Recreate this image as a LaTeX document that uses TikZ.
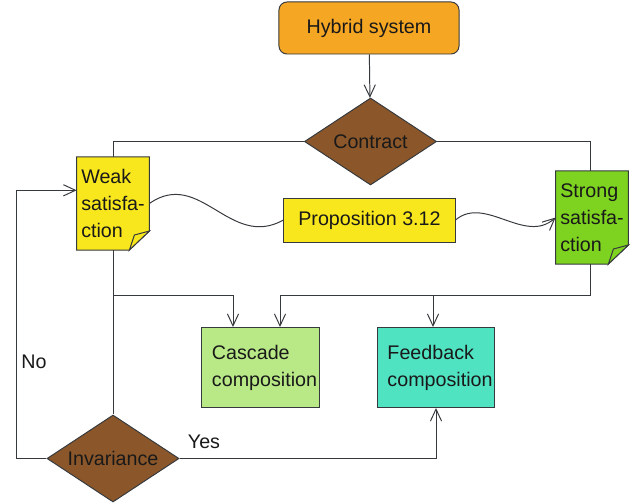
\documentclass[tikz,border=0pt]{standalone}
\usepackage{fontspec}
\setmainfont{Liberation Sans}
\usetikzlibrary{shapes.geometric,arrows.meta,backgrounds}
\definecolor{hybridorange}{HTML}{F5A623}
\definecolor{contractbrown}{HTML}{8B572A}
\definecolor{weakyellow}{HTML}{F8E71C}
\definecolor{stronggreen}{HTML}{7ED321}
\definecolor{cascadegreen}{HTML}{B8E986}
\definecolor{feedbackteal}{HTML}{50E3C2}
\definecolor{edgegray}{HTML}{36393D}
% folded corner drawn behind a note node
\newcommand{\dogear}[2]{%
  \begin{pgfonlayer}{background}
    \filldraw[draw=edgegray, line width=0.7pt, fill=#2]
      (#1.north west) -- (#1.north east) -- ([yshift=0.475cm]#1.south east)
      -- ([xshift=-0.5cm]#1.south east) -- (#1.south west) -- cycle;
    \filldraw[draw=edgegray, line width=0.7pt, fill=#2]
      ([yshift=0.475cm]#1.south east)
      .. controls ([xshift=-0.2cm,yshift=0.42cm]#1.south east) ..
      ([xshift=-0.375cm,yshift=0.375cm]#1.south east)
      -- ([xshift=-0.5cm]#1.south east) -- cycle;
  \end{pgfonlayer}}
\tikzset{
  every node/.style={
    font=\fontsize{14pt}{19.2pt}\selectfont,
    text=black!90
  },
  start/.style={
    shape=rectangle,
    rounded corners=0.2cm,
    draw=edgegray,
    line width=0.7pt,
    fill=hybridorange,
    minimum width=4.5cm,
    minimum height=1.3cm
  },
  decision/.style={
    shape=diamond,
    aspect=1.5,
    inner sep=0pt,
    draw=edgegray,
    line width=0.7pt,
    fill=contractbrown,
    minimum width=3.3cm,
    minimum height=2.175cm
  },
  note/.style={
    shape=rectangle,
    outer sep=0pt,
    align=left,
    minimum width=1.725cm,
    minimum height=2.325cm
  },
  lemma/.style={
    shape=rectangle,
    draw=edgegray,
    line width=0.7pt,
    fill=weakyellow,
    minimum width=4.275cm,
    minimum height=1.1cm
  },
  result/.style={
    shape=rectangle,
    draw=edgegray,
    line width=0.7pt,
    fill=#1,
    inner xsep=0.25cm,
    text width=2.425cm,
    align=left,
    minimum height=2cm
  },
  line/.style={
    draw=edgegray,
    line width=0.7pt
  },
  flow/.style={
    line,
    -{Straight Barb[length=0.3cm,width=0.28cm]}
  }
}

\begin{document}
\begin{tikzpicture}[x=0.025cm,y=-0.025cm]
\useasboundingbox (0,0) rectangle (643,504);

\node [start] (hybrid) at (369,28) {Hybrid system};
\node [decision] (contract) at (370.5,141.5) {Contract};
\node [note] (weak) at (113,203.5) {Weak\\satisfa-\\ction};
\node [note] (strong) at (592,217.5) {Strong\\satisfa-\\ction};
\node [lemma] (prop) at (369.5,220) {Proposition 3.12};
\node [result=cascadegreen] (cascade) at (260.5,367.5) {Cascade\\composition};
\node [result=feedbackteal] (feedback) at (436,367.5) {Feedback\\composition};
\node [decision] (inv) at (113,458.5) {Invariance};
\dogear{weak}{weakyellow}
\dogear{strong}{stronggreen}

\coordinate (bus) at (0,295);

\draw [flow] (hybrid) -- (contract);
\draw [line] (contract.west) -| (weak.north);
\draw [line] (contract.east) -| ([xshift=-0.05cm]strong.north);
\draw [line] (weak.east) .. controls (200,168) and (230,250) .. (prop.west);
\draw [flow] (prop.east) .. controls (485,195) and (525,245) .. (strong.west);
\draw [line] (weak.south) -- (inv.north);
\draw [flow] (weak.south |- bus) -| ([xshift=-0.6875cm]cascade.north);
\draw [flow] ([xshift=-0.05cm]strong.south) |- ([xshift=0.4875cm]cascade.north |- bus)
  -- ([xshift=0.4875cm]cascade.north);
\draw [flow] ([xshift=-0.075cm]feedback.north |- bus) -- ([xshift=-0.075cm]feedback.north);
\draw [flow] (inv.west) -- ++(-0.75cm,0) |- ([yshift=0.33cm]weak.west);
\draw [flow] (inv.east) -| (feedback.south);

\node (no) at (34,362) {No};
\node (yes) at (204,442) {Yes};

\end{tikzpicture}
\end{document}
